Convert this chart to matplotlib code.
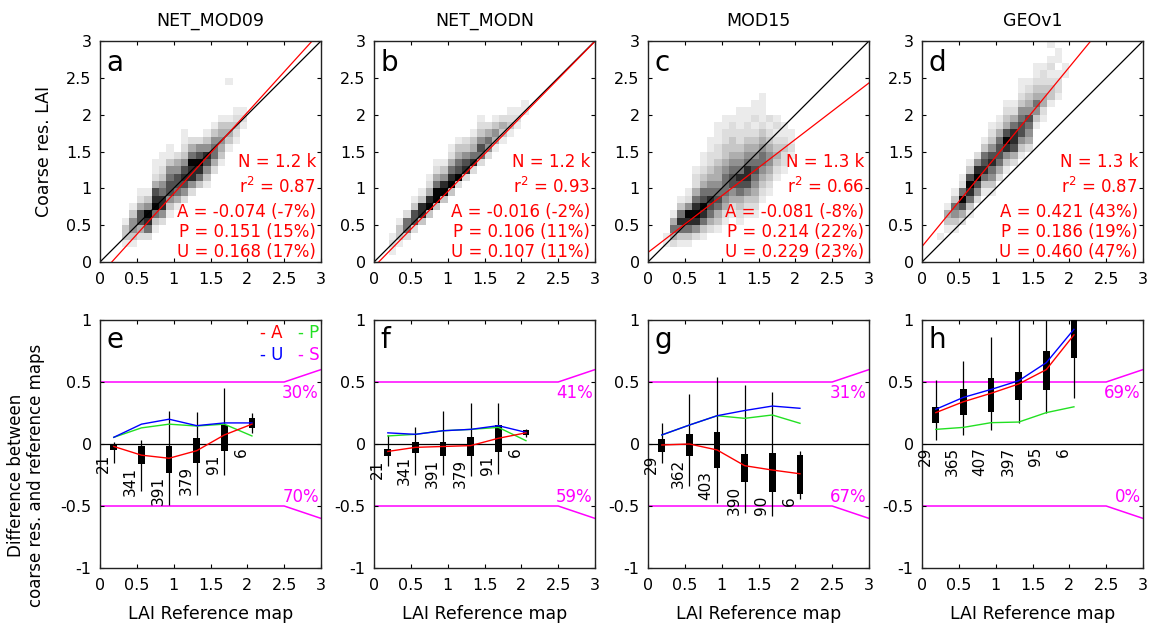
import numpy as np
import matplotlib
matplotlib.use("Agg")
import matplotlib.pyplot as plt
from matplotlib.colors import ListedColormap, BoundaryNorm

plt.rcParams['font.family'] = ['DejaVu Sans']
plt.rcParams['axes.unicode_minus'] = False
plt.rcParams['mathtext.fontset'] = 'dejavusans'

# ---------------- data ----------------
products = ["NET_MOD09", "NET_MODN", "MOD15", "GEOv1"]
top_letters = ["a", "b", "c", "d"]
bottom_letters = ["e", "f", "g", "h"]

tick_values = [0, 0.5, 1, 1.5, 2, 2.5, 3]
tick_labels = ["0", "0.5", "1", "1.5", "2", "2.5", "3"]
diff_ticks = [-1, -0.5, 0, 0.5, 1]
diff_tick_labels = ["-1", "-0.5", "0", "0.5", "1"]

stat_n = ["1.2 k", "1.2 k", "1.3 k", "1.3 k"]
stat_r2 = ["0.87", "0.93", "0.66", "0.87"]
stat_a = ["-0.074 (-7%)", "-0.016 (-2%)", "-0.081 (-8%)", "0.421 (43%)"]
stat_p = ["0.151 (15%)", "0.106 (11%)", "0.214 (22%)", "0.186 (19%)"]
stat_u = ["0.168 (17%)", "0.107 (11%)", "0.229 (23%)", "0.460 (47%)"]

fit_slope = [1.103, 1.02, 0.767, 1.218]
fit_intercept = [-0.176, -0.065, 0.13, 0.21]

# 2-D histogram cells (0.1 LAI bins): (x bin, first y bin, density level per y bin)
hist_a = [(3, 2, "1331"), (4, 2, "135531"), (5, 3, "2477421"), (6, 3, "2689531"),
          (7, 4, "1369874211"), (8, 5, "2588653211"), (9, 6, "1357765311"),
          (10, 7, "14677542"), (11, 8, "2578753211"), (12, 9, "25889642"),
          (13, 10, "3689752"), (14, 10, "13578531"), (15, 12, "2466531"),
          (16, 13, "1345431"), (17, 15, "1343100001"), (18, 16, "12321"),
          (19, 18, "121")]
hist_b = [(2, 1, "121"), (3, 2, "1331"), (4, 3, "2662"), (5, 4, "27731"),
          (6, 5, "38831"), (7, 6, "398421"), (8, 7, "3996421"), (9, 8, "398531"),
          (10, 9, "3986421"), (11, 10, "2976431"), (12, 11, "287532"),
          (13, 12, "286431"), (14, 13, "2675321"), (15, 14, "25642"),
          (16, 15, "14531"), (17, 16, "1342"), (18, 17, "1321"), (19, 18, "121"),
          (20, 20, "11")]
hist_c = [(2, 2, "11"), (3, 2, "24641"), (4, 2, "1368631"), (5, 2, "13689521"),
          (6, 3, "2589864221"), (7, 3, "136897643211"), (8, 4, "2467865432211"),
          (9, 4, "134676544322111"), (10, 5, "124566654332211"),
          (11, 6, "12457765433221"), (12, 5, "1234678654322111"),
          (13, 6, "123578865432211"), (14, 6, "1234567654321211"),
          (15, 8, "123456654321111"), (16, 9, "12345543212"),
          (17, 11, "123432121"), (18, 12, "1223211"), (19, 14, "1211")]
hist_d = [(2, 3, "1"), (3, 4, "1341"), (4, 4, "135631"), (5, 5, "2479621"),
          (6, 6, "13689731"), (7, 8, "2579852"), (8, 9, "13687631"),
          (9, 9, "1356875321"), (10, 11, "246776421"), (11, 12, "1358974321"),
          (12, 13, "247886421"), (13, 14, "13577653211"), (14, 15, "2456754321"),
          (15, 18, "135643211"), (16, 19, "12443221"), (17, 21, "133212101"),
          (18, 22, "1221011"), (19, 25, "11")]

# difference plots: LAI reference classes
class_centers = [0.1875, 0.5625, 0.9375, 1.3125, 1.6875, 2.0625]

e_counts = [21, 341, 391, 379, 91, 6]
e_q25 = [-0.05, -0.16, -0.23, -0.15, -0.06, 0.126]
e_q75 = [0.0, -0.02, -0.015, 0.046, 0.153, 0.207]
e_lo = [-0.15, -0.38, -0.49, -0.41, -0.25, 0.09]
e_hi = [0.02, 0.03, 0.27, 0.26, 0.45, 0.25]
e_A = [-0.02, -0.09, -0.115, -0.054, 0.073, 0.16]
e_P = [0.054, 0.13, 0.16, 0.145, 0.16, 0.065]
e_U = [0.054, 0.16, 0.2, 0.148, 0.17, 0.17]

f_counts = [21, 341, 391, 379, 91, 6]
f_q25 = [-0.10, -0.075, -0.094, -0.094, -0.067, 0.073]
f_q75 = [-0.04, 0.02, 0.02, 0.054, 0.153, 0.113]
f_lo = [-0.175, -0.25, -0.25, -0.26, -0.24, 0.06]
f_hi = [0.07, 0.14, 0.27, 0.33, 0.33, 0.125]
f_A = [-0.06, -0.027, -0.02, -0.013, 0.046, 0.09]
f_P = [0.065, 0.078, 0.107, 0.118, 0.134, 0.027]
f_U = [0.09, 0.078, 0.107, 0.118, 0.148, 0.094]

g_counts = [29, 362, 403, 390, 90, 6]
g_q25 = [-0.062, -0.094, -0.196, -0.31, -0.39, -0.40]
g_q75 = [0.038, 0.08, 0.094, -0.08, -0.07, -0.09]
g_lo = [-0.15, -0.336, -0.478, -0.56, -0.58, -0.446]
g_hi = [0.167, 0.40, 0.543, 0.473, 0.42, -0.056]
g_A = [-0.008, 0.0, -0.048, -0.175, -0.21, -0.24]
g_P = [0.073, 0.153, 0.228, 0.207, 0.234, 0.167]
g_U = [0.073, 0.153, 0.228, 0.27, 0.306, 0.288]

h_counts = [29, 365, 407, 397, 95, 6]
h_q25 = [0.17, 0.234, 0.255, 0.355, 0.433, 0.69]
h_q75 = [0.30, 0.44, 0.535, 0.583, 0.753, 1.05]
h_lo = [0.03, 0.07, 0.113, 0.172, 0.253, 0.37]
h_hi = [0.516, 0.67, 0.86, 1.02, 1.1, 1.2]
h_A = [0.253, 0.341, 0.409, 0.484, 0.60, 0.88]
h_P = [0.118, 0.134, 0.172, 0.177, 0.253, 0.30]
h_U = [0.28, 0.376, 0.44, 0.51, 0.656, 0.925]

pct_above = ["30%", "41%", "31%", "69%"]
pct_below = ["70%", "59%", "67%", "0%"]

limit_x = [0, 2.5, 3]
limit_upper = [0.5, 0.5, 0.6]
limit_lower = [-0.5, -0.5, -0.6]

# ---------------- drawing ----------------
W, H = 1152, 628
fig = plt.figure(figsize=(W / 100, H / 100), dpi=100)
fig.patch.set_facecolor('white')

col_left = [100, 374, 648, 922]
ax_w = 221

levels = np.arange(1, 10)
grays = 0.92 - 0.90 * ((levels - 1) / 8.0) ** 1.35
hist_cmap = ListedColormap([(g, g, g) for g in grays])
hist_norm = BoundaryNorm(np.arange(0.5, 10.5, 1), hist_cmap.N)
edges = np.linspace(0, 3, 31)

TICK_FS = 11.5
SPINE_C = '#222222'


def style_axes(ax):
    for sp in ax.spines.values():
        sp.set_linewidth(1.0)
        sp.set_color(SPINE_C)
    ax.tick_params(direction='in', length=3, width=0.8, top=True, right=True,
                   labelsize=TICK_FS, colors='black')
    ax.tick_params(axis='x', pad=7)
    ax.tick_params(axis='y', pad=6)


def hist_grid(columns):
    grid = np.zeros((30, 30))
    for col, start, digits in columns:
        for k, ch in enumerate(digits):
            grid[start + k, col] = int(ch)
    return np.ma.masked_equal(grid, 0)


hists = [hist_a, hist_b, hist_c, hist_d]
xline = np.array([0, 3.0])

for i in range(4):
    ax = fig.add_axes([col_left[i] / W, (H - 262) / H, ax_w / W, 221 / H])
    ax.pcolormesh(edges, edges, hist_grid(hists[i]), cmap=hist_cmap,
                  norm=hist_norm, shading='flat')
    ax.plot(xline, xline, color='black', lw=0.9)
    ax.plot(xline, fit_intercept[i] + fit_slope[i] * xline, color='red', lw=0.9)
    ax.set_xlim(0, 3)
    ax.set_ylim(0, 3)
    ax.set_xticks(tick_values)
    ax.set_xticklabels(tick_labels)
    ax.set_yticks(tick_values)
    ax.set_yticklabels(tick_labels)
    style_axes(ax)
    ax.text(0.5, 1.09, products[i], transform=ax.transAxes, ha='center',
            va='center', fontsize=12.5)
    ax.text(0.03, 0.965, top_letters[i], transform=ax.transAxes, ha='left',
            va='top', fontsize=20)
    lines = ["N = " + stat_n[i], "r$^2$ = " + stat_r2[i], "A = " + stat_a[i],
             "P = " + stat_p[i], "U = " + stat_u[i]]
    for txt, yb in zip(lines, [0.428, 0.314, 0.205, 0.1145, 0.024]):
        ax.text(0.977, yb, txt, transform=ax.transAxes, ha='right',
                va='baseline', fontsize=12, color='red')

fig.text(44 / W, 1 - 151.5 / H, "Coarse res. LAI", rotation=90, ha='center',
         va='center', fontsize=12.5)

panels = [
    (e_counts, e_q25, e_q75, e_lo, e_hi, e_A, e_P, e_U),
    (f_counts, f_q25, f_q75, f_lo, f_hi, f_A, f_P, f_U),
    (g_counts, g_q25, g_q75, g_lo, g_hi, g_A, g_P, g_U),
    (h_counts, h_q25, h_q75, h_lo, h_hi, h_A, h_P, h_U),
]

for i, (cnt, q25, q75, lo, hi, A, P, U) in enumerate(panels):
    ax = fig.add_axes([col_left[i] / W, (H - 568) / H, ax_w / W, 248 / H])
    ax.axhline(0, color='black', lw=0.9, zorder=1)
    ax.plot(limit_x, limit_upper, color='#ff00ff', lw=1.1, zorder=1)
    ax.plot(limit_x, limit_lower, color='#ff00ff', lw=1.1, zorder=1)
    ax.vlines(class_centers, lo, hi, color='black', lw=0.9, zorder=2)
    q25a = np.array(q25)
    q75a = np.array(q75)
    ax.bar(class_centers, q75a - q25a, bottom=q25a, width=0.09, color='black',
           zorder=3)
    ax.plot(class_centers, P, color='#22e022', lw=1.0, zorder=4)
    ax.plot(class_centers, U, color='#0000ff', lw=1.0, zorder=5)
    ax.plot(class_centers, A, color='#ff0000', lw=1.0, zorder=6)
    for xc, n, q in zip(class_centers, cnt, q25):
        ax.text(xc - 0.045, min(q, 0) - 0.025, str(n), rotation=90,
                ha='right', va='top', fontsize=11, zorder=7)
    ax.text(2.97, 0.41, pct_above[i], ha='right', va='center', fontsize=12,
            color='#ff00ff')
    ax.text(2.97, -0.43, pct_below[i], ha='right', va='center', fontsize=12,
            color='#ff00ff')
    ax.set_xlim(0, 3)
    ax.set_ylim(-1, 1)
    ax.set_xticks(tick_values)
    ax.set_xticklabels(tick_labels)
    ax.set_yticks(diff_ticks)
    ax.set_yticklabels(diff_tick_labels)
    style_axes(ax)
    ax.text(0.03, 0.975, bottom_letters[i], transform=ax.transAxes, ha='left',
            va='top', fontsize=20)
    ax.text(0.5, -0.185, "LAI Reference map", transform=ax.transAxes,
            ha='center', va='center', fontsize=12.5)
    if i == 0:
        ax.text(2.17, 0.895, "- A", color='#ff0000', fontsize=12, va='center')
        ax.text(2.69, 0.895, "- P", color='#22e022', fontsize=12, va='center')
        ax.text(2.17, 0.72, "- U", color='#0000ff', fontsize=12, va='center')
        ax.text(2.69, 0.72, "- S", color='#ff00ff', fontsize=12, va='center')

fig.text(26 / W, 1 - 475 / H,
         "Difference between\ncoarse res. and reference maps", rotation=90,
         ha='center', va='center', fontsize=12, multialignment='center',
         linespacing=1.15)

fig.savefig("out.png", dpi=100, facecolor='white')
